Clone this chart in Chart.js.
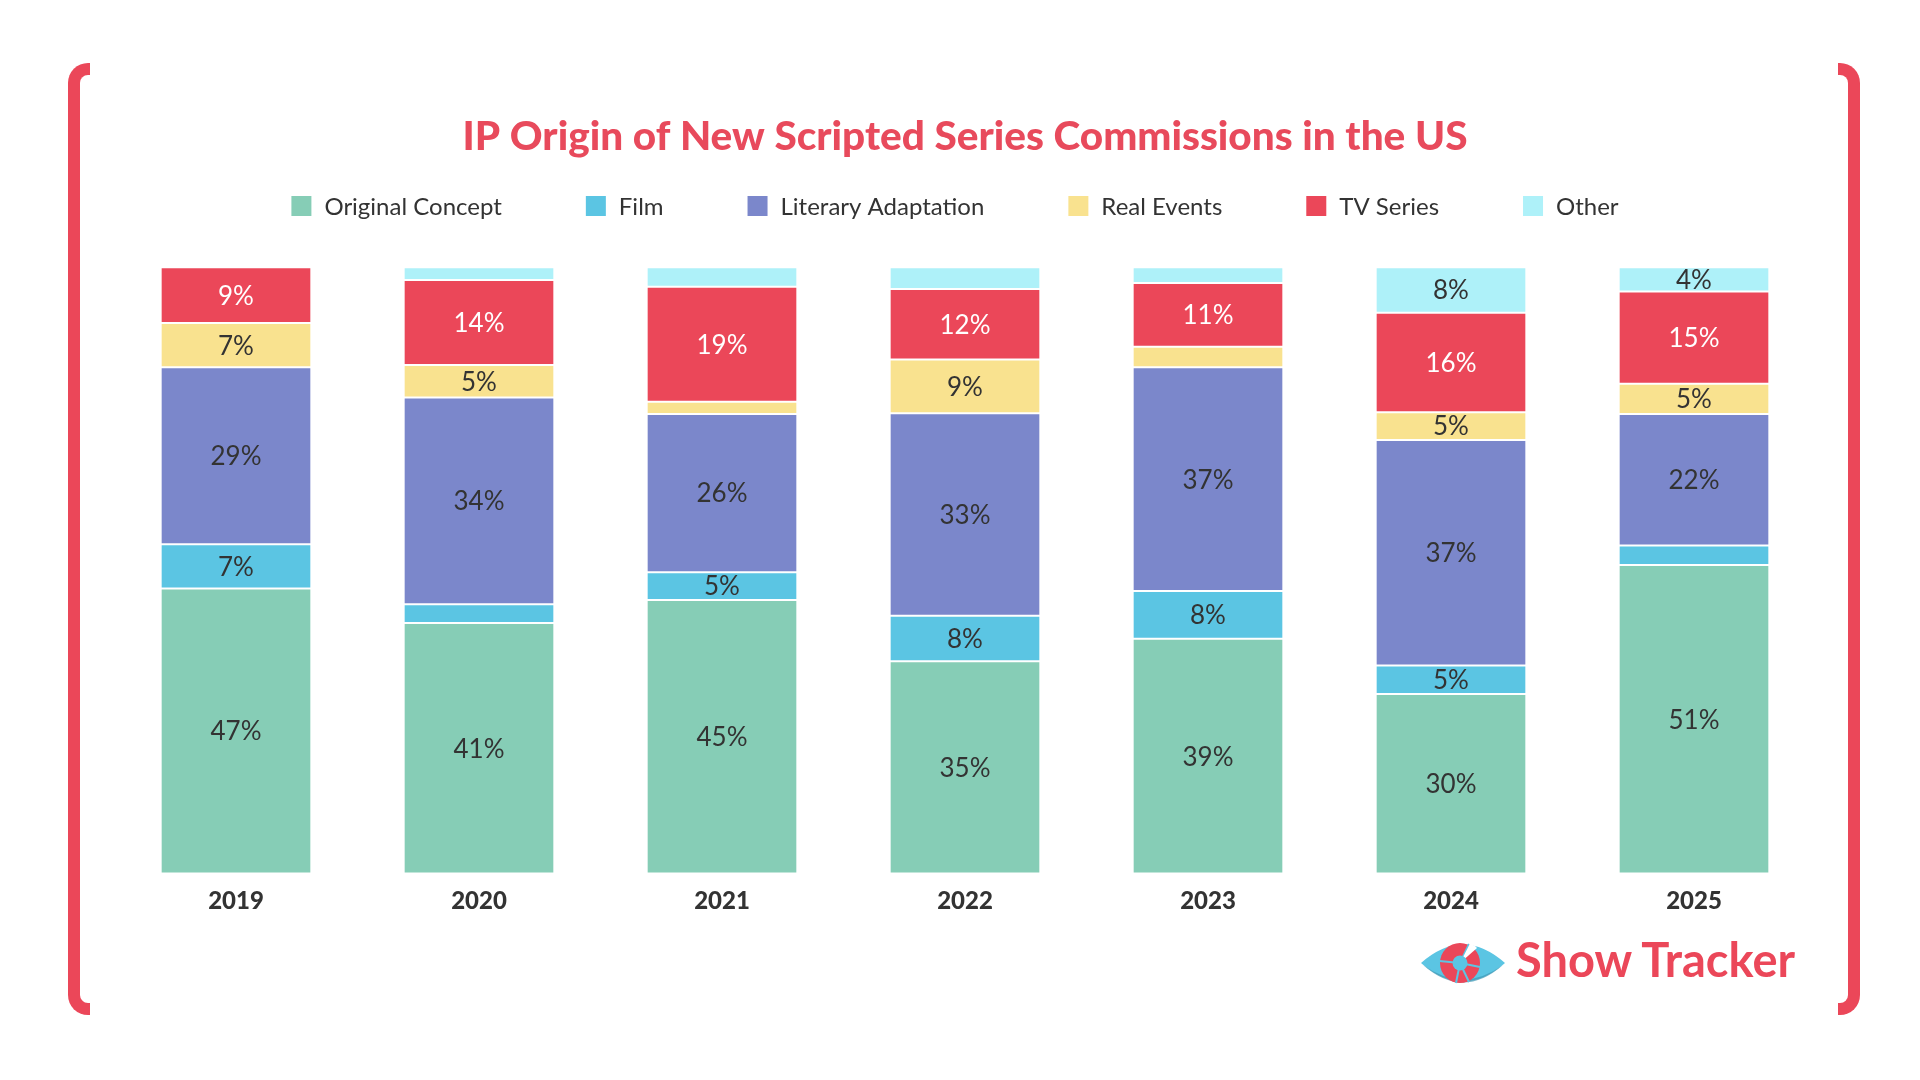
<!DOCTYPE html>
<html>
<head>
<meta charset="utf-8">
<script src="https://cdn.jsdelivr.net/npm/chart.js@4.4.1/dist/chart.umd.min.js"></script>
<style>
  html, body { margin: 0; padding: 0; background: #ffffff; }
  #wrap { position: relative; width: 1920px; height: 1080px; overflow: hidden; background: #fff; }
  #c { position: absolute; left: 0; top: 0; }
  .bracket { position: absolute; top: 63px; height: 952px; width: 22px; box-sizing: border-box; border: 12.5px solid #eb4759; }
  #bl { left: 68px; border-right: 0; border-radius: 20px 0 0 20px; }
  #br { left: 1838px; border-left: 0; border-radius: 0 20px 20px 0; }
  #logo-eye { position: absolute; left: 1419px; top: 936px; width: 88px; height: 54px; }
  #logo-text { position: absolute; left: 1516px; top: 936px; font-family: Lato, sans-serif; font-weight: 700; font-size: 47px; line-height: 47px; color: #eb4759; white-space: nowrap; letter-spacing: 0px; }
</style>
</head>
<body>
<div id="wrap">
  <canvas id="c" width="1920" height="1080"></canvas>
  <div class="bracket" id="bl"></div>
  <div class="bracket" id="br"></div>
  <svg id="logo-eye" viewBox="0 0 88 54">
    <path d="M2 27 Q44 -10 86 27 Q44 64 2 27 Z" fill="#5bc5e3"/>
    <path d="M4 29 Q44 64 84 29 Q44 58 4 29 Z" fill="#3f97b3" opacity="0.7"/>
    <circle cx="41" cy="27" r="20" fill="#eb4759"/>
    <g stroke="#5bc5e3" stroke-width="2">
      <line x1="41" y1="27" x2="20.5" y2="25"/>
      <line x1="41" y1="27" x2="37" y2="47"/>
      <line x1="41" y1="27" x2="50" y2="46"/>
      <line x1="41" y1="27" x2="61" y2="31"/>
      <line x1="41" y1="27" x2="50" y2="8"/>
    </g>
    <path d="M41 27 L51 7.5 Q56 9.5 58 12 Z" fill="#ffffff"/>
    <circle cx="41" cy="27" r="7.5" fill="#5bc5e3"/>
  </svg>
  <div id="logo-text">Show Tracker</div>
</div>
<script>
// ---- Data ----
const categories = ['2019', '2020', '2021', '2022', '2023', '2024', '2025'];
const seriesNames = ['Original Concept', 'Film', 'Literary Adaptation', 'Real Events', 'TV Series', 'Other'];
const originalConcept = [47.0, 41.3, 45.1, 35.0, 38.7, 29.6, 50.9];
const film            = [7.3, 3.1, 4.6, 7.5, 7.9, 4.7, 3.2];
const literary        = [29.2, 34.1, 26.1, 33.4, 36.9, 37.2, 21.7];
const realEvents      = [7.3, 5.4, 2.0, 8.9, 3.4, 4.6, 5.0];
const tvSeries        = [9.2, 14.0, 19.0, 11.6, 10.5, 16.4, 15.2];
const other           = [0.0, 2.1, 3.2, 3.6, 2.6, 7.5, 4.0];
const titleText = 'IP Origin of New Scripted Series Commissions in the US';

const seriesColors = ['#86cdb6', '#5bc5e3', '#7b87cb', '#f9e28f', '#eb4759', '#aef1f9'];
const labelColors  = ['#333333', '#333333', '#333333', '#333333', '#ffffff', '#333333'];
const seriesValues = [originalConcept, film, literary, realEvents, tvSeries, other];

// ---- Plugins ----
const segmentLabels = {
  id: 'segmentLabels',
  afterDatasetsDraw(chart) {
    const ctx = chart.ctx;
    ctx.save();
    ctx.font = '400 26px Lato, sans-serif';
    ctx.textAlign = 'center';
    ctx.textBaseline = 'middle';
    chart.data.datasets.forEach((ds, i) => {
      const meta = chart.getDatasetMeta(i);
      meta.data.forEach((bar, j) => {
        const v = ds.data[j];
        if (v < 4) return;
        const p = bar.getProps(['x', 'y', 'base'], true);
        ctx.fillStyle = labelColors[i];
        ctx.fillText(Math.round(v) + '%', p.x, (p.y + p.base) / 2 + 1);
      });
    });
    ctx.restore();
  }
};

const customLegend = {
  id: 'customLegend',
  afterDraw(chart) {
    const ctx = chart.ctx;
    ctx.save();
    ctx.font = '400 24px Lato, sans-serif';
    ctx.textBaseline = 'middle';
    ctx.textAlign = 'left';
    const box = 20, gapText = 13, gapItem = 84, y = 206;
    const items = chart.data.datasets.map(ds => ({ text: ds.label, color: ds.backgroundColor, w: ctx.measureText(ds.label).width }));
    let total = 0;
    items.forEach((it, k) => { total += box + gapText + it.w + (k < items.length - 1 ? gapItem : 0); })
    let x = 955 - total / 2;
    items.forEach(it => {
      ctx.fillStyle = it.color;
      ctx.fillRect(x, y - box / 2, box, box);
      ctx.fillStyle = '#333333';
      ctx.fillText(it.text, x + box + gapText, y + 1);
      x += box + gapText + it.w + gapItem;
    });
    ctx.restore();
  }
};

function build() {
  const datasets = seriesNames.map((name, i) => ({
    label: name,
    data: seriesValues[i],
    backgroundColor: seriesColors[i],
    borderColor: 'rgba(255,255,255,0.75)',
    borderWidth: 1,
    borderSkipped: false,
    categoryPercentage: 1.0,
    barPercentage: 0.62
  }));

  new Chart(document.getElementById('c'), {
    type: 'bar',
    data: { labels: categories, datasets },
    options: {
      responsive: false,
      animation: false,
      devicePixelRatio: 1,
      layout: { padding: { left: 114.5, right: 104.5, top: 0, bottom: 150.6 } },
      plugins: {
        legend: { display: false },
        tooltip: { enabled: false },
        title: {
          display: true,
          text: titleText,
          color: '#e84a5c',
          font: { family: 'Lato, sans-serif', size: 40.5, weight: '900', lineHeight: 1.2 },
          padding: { top: 113, bottom: 105.7 }
        }
      },
      scales: {
        x: {
          stacked: true,
          grid: { display: false, drawTicks: false },
          border: { display: false },
          ticks: {
            color: '#333333',
            padding: 13.6,
            font: { family: 'Lato, sans-serif', size: 24, weight: '900', lineHeight: 1.2 }
          }
        },
        y: {
          stacked: true,
          display: false,
          min: 0,
          max: 100
        }
      }
    },
    plugins: [segmentLabels, customLegend]
  });
}

Promise.all([
  document.fonts.load('900 40.5px Lato'),
  document.fonts.load('400 26px Lato'),
  document.fonts.load('400 24px Lato'),
  document.fonts.load('900 24px Lato')
]).then(build, build);
</script>
</body>
</html>
